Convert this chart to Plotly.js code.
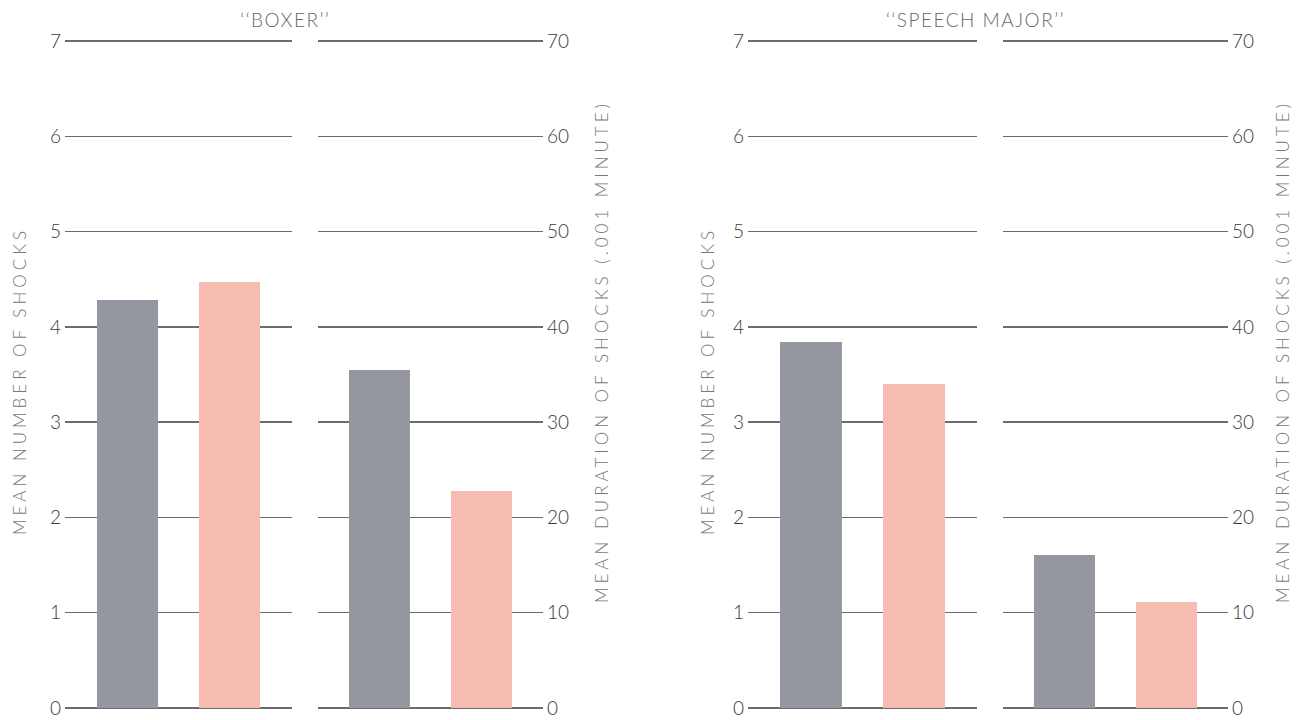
<!DOCTYPE html>
<html>
<head>
<meta charset="utf-8">
<script src="https://cdn.plot.ly/plotly-3.0.1.min.js"></script>
<style>
  html, body { margin: 0; padding: 0; background: #fff; }
  #chart { width: 1301px; height: 720px; }
  /* widely tracked lettering for the vertical axis titles */
  #chart .annotation .annotation-text { letter-spacing: 4px; }
  #chart .annotation[data-index="0"] .annotation-text,
  #chart .annotation[data-index="1"] .annotation-text { letter-spacing: 1.5px; }
</style>
</head>
<body>
<div id="chart"></div>
<script>
// Two conditions shown side by side in every sub-panel
const conditions = ['Condition A', 'Condition B'];

// "BOXER" victim
const boxerNumber = [4.28, 4.47];     // mean number of shocks
const boxerDuration = [35.5, 22.8];   // mean duration of shocks (.001 minute)

// "SPEECH MAJOR" victim
const speechNumber = [3.84, 3.40];
const speechDuration = [16.1, 11.1];

const numberTicks = [0, 1, 2, 3, 4, 5, 6, 7];
const durationTicks = [0, 10, 20, 30, 40, 50, 60, 70];

const panelTitles = ['\u2018\u2018BOXER\u2019\u2019', '\u2018\u2018SPEECH MAJOR\u2019\u2019'];
const numberTitle = 'MEAN NUMBER OF SHOCKS';
const durationTitle = 'MEAN DURATION OF SHOCKS (.001 MINUTE)';

const barColors = ['#9496a0', '#f7bcb1'];
const gridColor = '#6c6c6c';
const FONT = 'Lato, "Liberation Sans", Arial, sans-serif';

const W = 1301, H = 720;
const px = x => x / W;
const py = y => 1 - y / H;

// plot area: value 0 sits at y=708 px and the top tick at y=41 px;
// the range is padded a little so that the top grid line is still drawn
const PAD = 0.02;                      // fraction of one tick step
const unitPx = (708 - 41) / 7;
const yDomain = [py(708 + PAD * unitPx), py(41 - PAD * unitPx)];
const xDomains = [
  [px(65), px(292)], [px(318), px(543)],
  [px(748), px(977)], [px(1003), px(1228)]
];

const panels = [
  { values: boxerNumber, ticks: numberTicks, side: 'left' },
  { values: boxerDuration, ticks: durationTicks, side: 'right' },
  { values: speechNumber, ticks: numberTicks, side: 'left' },
  { values: speechDuration, ticks: durationTicks, side: 'right' }
];

const traces = [];
const layout = {
  width: W, height: H,
  margin: { l: 0, r: 0, t: 0, b: 0 },
  paper_bgcolor: '#ffffff',
  plot_bgcolor: 'rgba(0,0,0,0)',
  showlegend: false,
  bargap: 0,
  font: { family: FONT, color: '#555', size: 18, weight: 300 },
  annotations: []
};

panels.forEach((p, i) => {
  const n = i + 1;
  const xa = n === 1 ? 'x' : 'x' + n;
  const ya = n === 1 ? 'y' : 'y' + n;
  traces.push({
    type: 'bar',
    x: conditions,
    y: p.values,
    xaxis: xa, yaxis: ya,
    width: 0.6,
    marker: { color: barColors, line: { width: 0 } },
    hoverinfo: 'y'
  });
  const step = p.ticks[1] - p.ticks[0];
  const top = p.ticks[p.ticks.length - 1];
  layout['xaxis' + (n === 1 ? '' : n)] = {
    domain: xDomains[i],
    anchor: ya,
    type: 'category',
    range: [-0.61, 1.61],
    showticklabels: false,
    showgrid: false, zeroline: false, showline: false, ticks: ''
  };
  layout['yaxis' + (n === 1 ? '' : n)] = {
    domain: yDomain,
    anchor: xa,
    range: [-PAD * step, top + PAD * step],
    tickvals: p.ticks,
    ticktext: p.ticks.map(String),
    side: p.side,
    showticklabels: true,
    ticks: '',
    ticklabelstandoff: 3,
    tickfont: { family: FONT, size: 19, color: '#3a3a3a', weight: 300 },
    showgrid: true, gridcolor: gridColor, gridwidth: 1.3,
    zeroline: true, zerolinecolor: gridColor, zerolinewidth: 1.3,
    showline: false
  };
});

// Panel titles
[[285, panelTitles[0]], [975, panelTitles[1]]].forEach(([x, t]) => {
  layout.annotations.push({
    xref: 'paper', yref: 'paper', x: px(x), y: py(19),
    xanchor: 'center', yanchor: 'middle', showarrow: false,
    text: t, font: { family: FONT, size: 19, color: '#666', weight: 300 }
  });
});

// Vertical axis titles
[[19, 381, numberTitle], [601, 352, durationTitle],
 [707, 381, numberTitle], [1282, 352, durationTitle]].forEach(([x, y, t]) => {
  layout.annotations.push({
    xref: 'paper', yref: 'paper', x: px(x), y: py(y),
    xanchor: 'center', yanchor: 'middle', showarrow: false,
    textangle: -90,
    text: t, font: { family: FONT, size: 17, color: '#777', weight: 300 }
  });
});

Plotly.newPlot('chart', traces, layout, { displayModeBar: false, staticPlot: true });
</script>
</body>
</html>
